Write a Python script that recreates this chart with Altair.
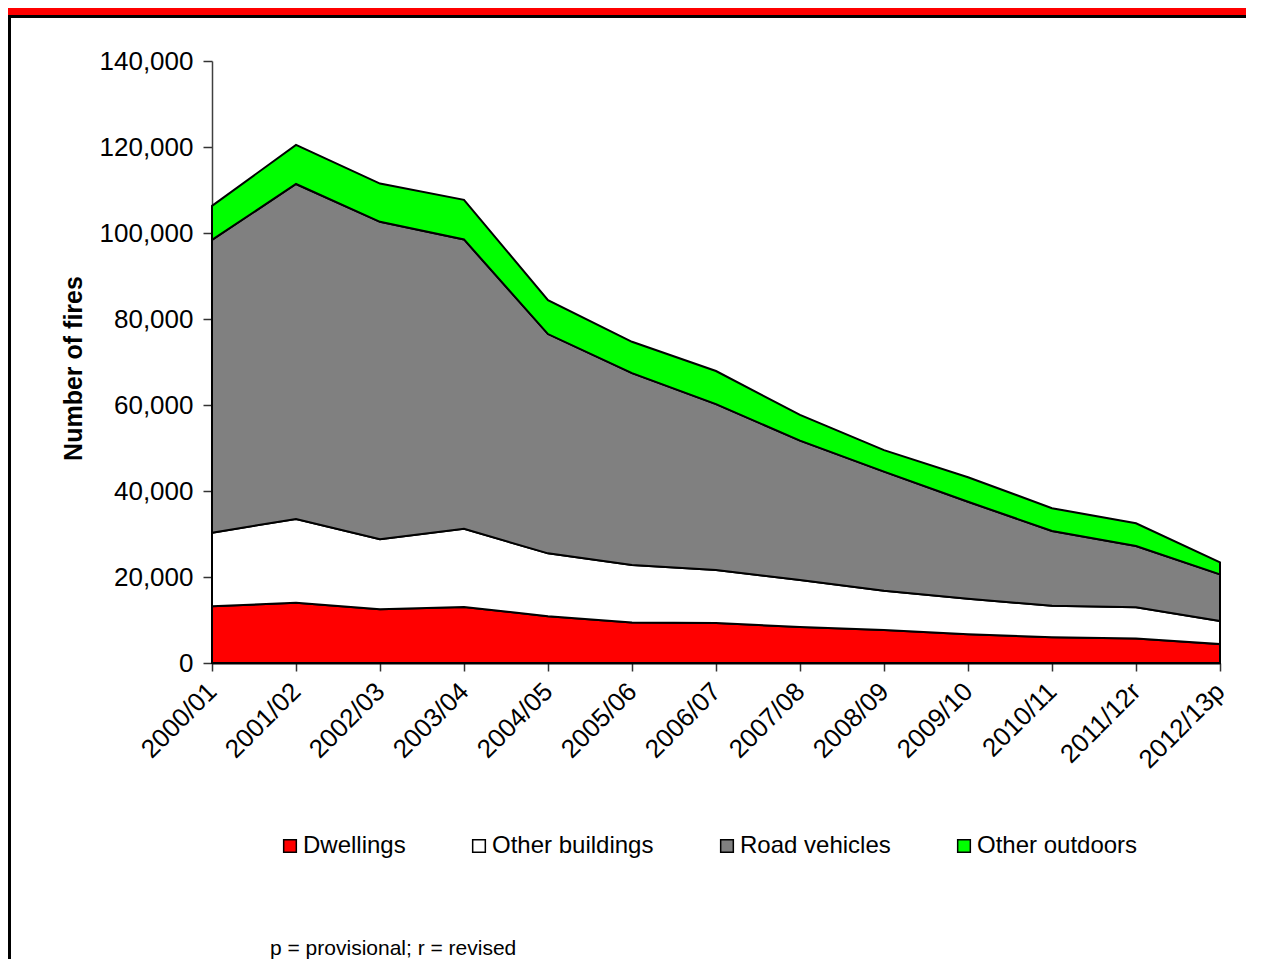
import altair as alt
import pandas as pd

years = ["2000/01", "2001/02", "2002/03", "2003/04", "2004/05", "2005/06", "2006/07",
         "2007/08", "2008/09", "2009/10", "2010/11", "2011/12r", "2012/13p"]
dwellings = [13200, 14000, 12500, 13000, 10900, 9400, 9300, 8400, 7700, 6700, 6000, 5700, 4400]
other_buildings = [17100, 19500, 16300, 18200, 14600, 13400, 12300, 10900, 9100, 8250, 7300, 7250, 5370]
road_vehicles = [68100, 77900, 73800, 67300, 51000, 44600, 38600, 32400, 27700, 22550, 17400, 14250, 10830]
other_outdoors = [7900, 9100, 8900, 9200, 7900, 7300, 7700, 6000, 5000, 5700, 5300, 5300, 2800]

series_names = ["Dwellings", "Other buildings", "Road vehicles", "Other outdoors"]
series_values = [dwellings, other_buildings, road_vehicles, other_outdoors]
series_colors = ["#FF0000", "#FFFFFF", "#808080", "#00FF00"]

rows = []
for k, (name, vals) in enumerate(zip(series_names, series_values)):
    for yr, v in zip(years, vals):
        rows.append({"year": yr, "series": name, "value": v, "ord": k})
df = pd.DataFrame(rows)

FONT = "Liberation Sans"
W, H = 1008, 602
PAD_L, PAD_T, PAD_R = 204, 53, 26
TOTAL_H = 951
PAD_B = TOTAL_H - PAD_T - H

areas = alt.Chart(df).mark_area(stroke="black", strokeWidth=2, strokeJoin="miter", opacity=1).encode(
    x=alt.X("year:N", sort=years, scale=alt.Scale(type="point", padding=0),
            axis=alt.Axis(title=None, labelAngle=-45, labelAlign="right", labelBaseline="middle",
                          labelPadding=16, tickSize=8, labelFontSize=26, labelFont=FONT,
                          labelColor="black", tickColor="#333333", tickWidth=1.5,
                          domainColor="black", domainWidth=2)),
    y=alt.Y("value:Q", stack="zero", scale=alt.Scale(domain=[0, 140000], nice=False),
            axis=alt.Axis(title="Number of fires", values=list(range(0, 140001, 20000)), format=",d",
                          grid=False, tickSize=9, labelPadding=10, labelFontSize=26, labelFont=FONT,
                          labelColor="black", tickColor="#333333", tickWidth=1.5,
                          domainColor="#404040", domainWidth=1.5,
                          titleFont=FONT, titleFontSize=25, titleFontWeight="bold", titleColor="black",
                          titleX=-139, titleY=307, titleAngle=-90, titleAlign="center",
                          titleBaseline="middle")),
    color=alt.Color("series:N", scale=alt.Scale(domain=series_names, range=series_colors),
                    legend=alt.Legend(title=None, orient="none", direction="horizontal", columns=4,
                                      legendX=66, legendY=773, symbolType="square", symbolSize=160,
                                      symbolStrokeColor="black", symbolStrokeWidth=1.5,
                                      symbolOpacity=1, labelOffset=1, columnPadding=61,
                                      labelLimit=1000,
                                      labelFont=FONT, labelFontSize=24, labelColor="black")),
    order=alt.Order("ord:Q", sort="ascending"),
)

one = pd.DataFrame({"a": [0]})

red_band = alt.Chart(one).mark_rect(color="#FF0000").encode(
    x=alt.value(-PAD_L), x2=alt.value(W + PAD_R), y=alt.value(-PAD_T), y2=alt.value(-PAD_T + 7))
black_line = alt.Chart(one).mark_rect(color="black").encode(
    x=alt.value(-PAD_L), x2=alt.value(W + PAD_R), y=alt.value(-PAD_T + 7), y2=alt.value(-PAD_T + 10))
left_border = alt.Chart(one).mark_rect(color="black").encode(
    x=alt.value(-PAD_L), x2=alt.value(-PAD_L + 3), y=alt.value(-PAD_T + 7), y2=alt.value(H + PAD_B))

footnote = alt.Chart(one).mark_text(text="p = provisional; r = revised", font=FONT, fontSize=21,
                                    align="left", baseline="alphabetic", color="black").encode(
    x=alt.value(58), y=alt.value(894))

chart = alt.layer(areas, red_band, black_line, left_border, footnote).properties(
    width=W, height=H,
    background="white",
    autosize=alt.AutoSizeParams(type="none"),
    padding={"left": PAD_L, "top": PAD_T, "right": PAD_R, "bottom": PAD_B},
).configure_view(stroke=None)

chart.save("out.html", embed_options={"renderer": "svg", "actions": False})
